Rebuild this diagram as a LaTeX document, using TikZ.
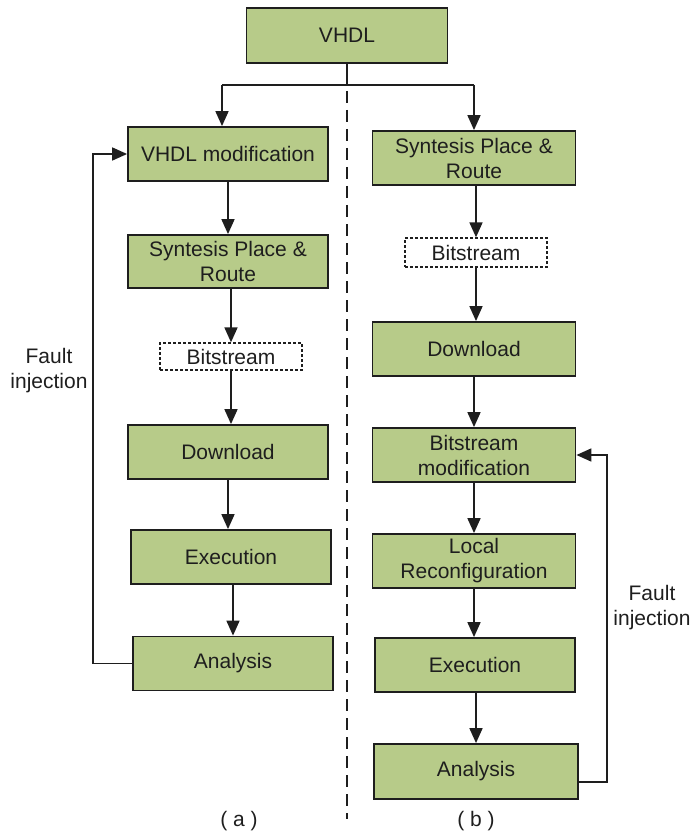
\documentclass[tikz,border=0pt]{standalone}
\usepackage{fontspec}
\setmainfont{Liberation Sans}
\usetikzlibrary{arrows.meta}
\definecolor{boxgreen}{RGB}{183,203,137}
\definecolor{inkgray}{RGB}{30,30,30}
\begin{document}
\begin{tikzpicture}[x=1pt,y=-1pt,
  every node/.style={font=\fontsize{21}{25}\selectfont, text=inkgray},
  stepbox/.style={draw=inkgray, fill=boxgreen, line width=1.8pt,
    minimum width=200pt, minimum height=54pt, inner sep=0pt, align=center},
  filebox/.style={draw=inkgray, dash pattern=on 3pt off 2pt, line width=1.3pt,
    minimum width=142pt, minimum height=28pt, inner sep=0pt, align=center},
  flow/.style={line width=1.7pt, draw=inkgray,
    -{Triangle[length=15pt,width=13pt]}},
  link/.style={line width=1.7pt, draw=inkgray}]
\useasboundingbox (0,0) rectangle (694,834);

% top source
\node[stepbox, minimum width=201pt, minimum height=55pt] (vhdl) at (347,35.5) {VHDL};

% column (a): fault injection in the VHDL source
\node[stepbox] (modA) at (228,154) {VHDL modification};
\node[stepbox, minimum height=53pt] (synA) at (228,261.5) {Syntesis Place \&\\Route};
\node[filebox, minimum height=27pt] (bitA) at (231,356.5) {Bitstream};
\node[stepbox] (dlA) at (228,452) {Download};
\node[stepbox] (exA) at (231,557) {Execution};
\node[stepbox] (anA) at (233,663.5) {Analysis};

% column (b): fault injection in the bitstream
\node[stepbox, minimum width=203pt] (synB) at (474,158) {Syntesis Place \&\\Route};
\node[filebox, minimum height=29pt] (bitB) at (476,252.5) {Bitstream};
\node[stepbox, minimum width=203pt] (dlB) at (474,349) {Download};
\node[stepbox, minimum width=203pt] (modB) at (474,455) {Bitstream\\modification};
\node[stepbox, minimum width=203pt] (lrB) at (474,561) {Local\\Reconfiguration};
\node[stepbox] (exB) at (475,665) {Execution};
\node[stepbox, minimum width=204pt, minimum height=55pt] (anB) at (476,771.5) {Analysis};

% branch from the source into both flows
\coordinate (split) at (347,85);
\coordinate (splitL) at (222,85);
\coordinate (splitR) at (474,85);
\draw[link] (vhdl.south) -- (split);
\draw[link] (splitL) -- (splitR);
\draw[flow] (splitL) -- (splitL |- modA.north);
\draw[flow] (splitR) -- (splitR |- synB.north);

% separator between the two flows
\coordinate (sepEnd) at (347,819);
\draw[line width=1.4pt, draw=inkgray, dash pattern=on 12pt off 7pt] ([yshift=-6pt]split) -- (sepEnd);

% flow (a)
\draw[flow] (modA.south) -- (modA.south |- synA.north);
\draw[flow] (bitA.north |- synA.south) -- (bitA.north);
\draw[flow] (bitA.south) -- (bitA.south |- dlA.north);
\draw[flow] (dlA.south) -- (dlA.south |- exA.north);
\draw[flow] (anA.north |- exA.south) -- (anA.north);
\coordinate (loopA) at (93,663.5);
\draw[flow] (anA.west) -- (loopA) |- (modA.west);
\node[align=center] (faultA) at (49,371) {Fault\\injection};

% flow (b)
\draw[flow] (bitB.north |- synB.south) -- (bitB.north);
\draw[flow] (bitB.south) -- (bitB.south |- dlB.north);
\draw[flow] (dlB.south) -- (modB.north);
\draw[flow] (modB.south) -- (lrB.north);
\draw[flow] (lrB.south) -- (lrB.south |- exB.north);
\draw[flow] (anB.north |- exB.south) -- (anB.north);
\coordinate (loopB) at (607,782);
\draw[flow] ([yshift=-10.5pt]anB.east) -- (loopB) |- (modB.east);
\node[align=center] (faultB) at (652,608) {Fault\\injection};

% captions
\node (capA) at (239,821) {( a )};
\node (capB) at (476,821) {( b )};
\end{tikzpicture}
\end{document}
